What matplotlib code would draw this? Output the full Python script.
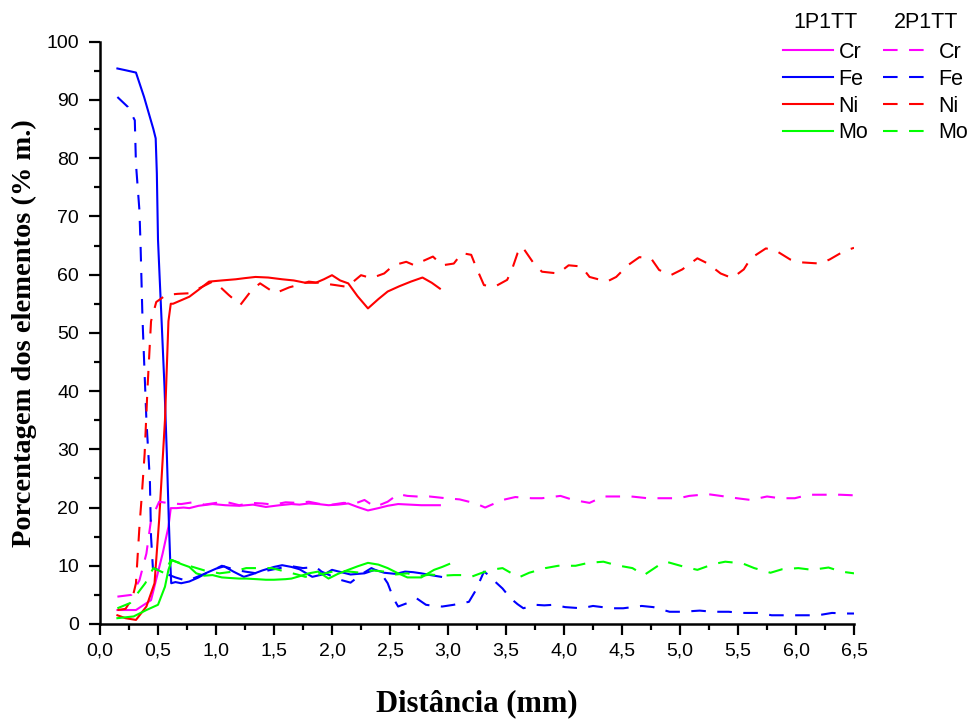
import matplotlib
matplotlib.use("Agg")
import matplotlib.pyplot as plt
from matplotlib.lines import Line2D
from matplotlib.ticker import MultipleLocator, FuncFormatter

# ---- profile data: element content (% mass) vs distance (mm) ----
# 1P1TT
cr1_x = [0.15, 0.22, 0.31, 0.44, 0.54, 0.59, 0.61, 0.66, 0.72, 0.77, 0.85, 0.97, 1.08, 1.20,
         1.32, 1.43, 1.55, 1.65, 1.72, 1.80, 1.88, 1.97, 2.05, 2.14, 2.22, 2.31, 2.40, 2.48,
         2.57, 2.67, 2.77, 2.85, 2.93]
cr1_y = [2.4, 2.4, 2.4, 4.1, 12.1, 16.7, 19.9, 19.9, 20.0, 19.9, 20.3, 20.6, 20.4, 20.3,
         20.5, 20.1, 20.4, 20.6, 20.5, 20.7, 20.6, 20.4, 20.5, 20.7, 20.1, 19.5, 19.9, 20.3,
         20.6, 20.5, 20.4, 20.4, 20.4]

fe1_x = [0.15, 0.22, 0.31, 0.38, 0.46, 0.48, 0.49, 0.50, 0.514, 0.528, 0.556, 0.576, 0.593,
         0.605, 0.614, 0.65, 0.70, 0.77, 0.85, 0.92, 1.00, 1.07, 1.15, 1.24, 1.32, 1.40, 1.50,
         1.57, 1.65, 1.72, 1.83, 1.94, 2.00, 2.08, 2.16, 2.28, 2.37, 2.45, 2.55, 2.63, 2.70,
         2.77, 2.85, 2.94]
fe1_y = [95.4, 95.1, 94.7, 90.5, 85.0, 83.4, 77.4, 66.0, 59.6, 53.4, 40.7, 29.3, 17.9,
         11.0, 7.0, 7.2, 7.0, 7.3, 8.0, 8.8, 9.5, 9.9, 9.0, 8.1, 8.6, 9.2, 9.8,
         10.1, 9.8, 9.4, 8.1, 8.6, 9.3, 8.9, 8.5, 8.7, 9.3, 8.8, 8.6, 9.0, 8.9,
         8.7, 8.4, 8.1]

ni1_x = [0.15, 0.22, 0.31, 0.40, 0.47, 0.51, 0.56, 0.59, 0.61, 0.63, 0.70, 0.77, 0.85, 0.94,
         1.05, 1.17, 1.25, 1.34, 1.45, 1.57, 1.67, 1.77, 1.86, 1.93, 2.00, 2.07, 2.14, 2.22,
         2.31, 2.40, 2.48, 2.58, 2.68, 2.78, 2.86, 2.93]
ni1_y = [1.5, 1.0, 0.7, 3.0, 7.0, 17.9, 35.0, 52.0, 55.0, 55.0, 55.6, 56.2, 57.4, 58.8,
         59.0, 59.2, 59.4, 59.6, 59.5, 59.2, 59.0, 58.6, 58.6, 59.2, 59.9, 59.0, 58.5, 56.3,
         54.2, 55.8, 57.1, 58.0, 58.8, 59.5, 58.6, 57.6]

mo1_x = [0.15, 0.29, 0.40, 0.50, 0.56, 0.59, 0.62, 0.70, 0.77, 0.83, 0.90, 0.97, 1.05, 1.12,
         1.20, 1.26, 1.35, 1.43, 1.50, 1.60, 1.65, 1.72, 1.80, 1.88, 1.97, 2.05, 2.14, 2.22,
         2.31, 2.40, 2.48, 2.56, 2.65, 2.77, 2.88, 2.95, 3.01]
mo1_y = [1.0, 1.3, 2.4, 3.3, 6.4, 9.3, 11.0, 10.3, 9.8, 8.7, 8.3, 8.4, 8.0, 7.9,
         7.8, 7.8, 7.7, 7.6, 7.6, 7.7, 7.8, 8.2, 8.7, 9.0, 7.8, 8.6, 9.3, 9.9,
         10.5, 10.2, 9.6, 8.8, 8.0, 8.0, 9.3, 9.8, 10.3]

# 2P1TT
cr2_x = [0.15, 0.27, 0.34, 0.40, 0.44, 0.51, 0.61, 0.70, 0.80, 0.90, 1.00, 1.10, 1.20, 1.30,
         1.40, 1.50, 1.60, 1.70, 1.80, 1.90, 2.00, 2.10, 2.20, 2.28, 2.37, 2.48, 2.57, 2.65,
         2.73, 2.84, 2.98, 3.10, 3.24, 3.32, 3.47, 3.58, 3.72, 3.81, 3.97, 4.08, 4.22, 4.34,
         4.47, 4.58, 4.72, 4.84, 4.99, 5.08, 5.24, 5.35, 5.49, 5.61, 5.75, 5.86, 5.99, 6.11,
         6.25, 6.38, 6.50]
cr2_y = [4.7, 5.0, 7.5, 12.1, 17.9, 21.0, 20.7, 20.6, 20.9, 20.5, 20.8, 20.9, 20.4, 20.8,
         20.7, 20.5, 20.9, 20.8, 21.0, 20.6, 20.5, 20.8, 20.7, 21.3, 20.1, 21.0, 22.3, 22.0,
         21.9, 21.9, 21.6, 21.4, 20.7, 20.0, 21.3, 21.8, 21.6, 21.6, 22.0, 21.3, 20.8, 21.9,
         21.9, 21.9, 21.6, 21.6, 21.6, 22.0, 22.3, 22.0, 21.6, 21.3, 21.9, 21.6, 21.6, 22.2,
         22.2, 22.2, 22.1]

fe2_x = [0.15, 0.24, 0.30, 0.31, 0.34, 0.35, 0.365, 0.37, 0.40, 0.43, 0.44, 0.456, 0.50,
         0.56, 0.65, 0.75, 0.85, 0.95, 1.05, 1.15, 1.25, 1.35, 1.45, 1.55, 1.63, 1.75, 1.86,
         1.91, 2.00, 2.07, 2.16, 2.25, 2.34, 2.42, 2.48, 2.53, 2.57, 2.65, 2.73, 2.81, 2.88,
         2.95, 3.05, 3.12, 3.18, 3.24, 3.31, 3.35, 3.41, 3.47, 3.54, 3.60, 3.65, 3.75, 3.83,
         3.91, 4.01, 4.15, 4.25, 4.33, 4.41, 4.51, 4.59, 4.67, 4.77, 4.84, 4.91, 5.02, 5.17,
         5.28, 5.42, 5.54, 5.68, 5.79, 5.94, 6.06, 6.19, 6.31, 6.45, 6.50]
fe2_y = [90.5, 88.8, 86.5, 79.0, 71.0, 64.8, 53.4, 50.5, 35.0, 24.7, 15.0, 9.6, 9.3,
         8.7, 8.0, 7.4, 8.2, 9.0, 10.0, 9.4, 9.0, 8.7, 9.2, 9.6, 10.0, 9.6, 9.8,
         9.0, 8.2, 7.6, 7.1, 8.5, 9.6, 8.8, 7.0, 4.4, 3.0, 3.6, 4.4, 3.3, 3.1,
         3.0, 3.3, 3.6, 3.8, 5.8, 9.0, 8.4, 7.2, 6.1, 4.4, 3.4, 2.7, 3.3, 3.2,
         3.3, 2.9, 2.7, 3.1, 2.9, 2.7, 2.7, 2.9, 3.1, 2.9, 2.5, 2.1, 2.1, 2.3,
         2.1, 2.1, 1.9, 1.9, 1.5, 1.5, 1.5, 1.5, 1.9, 1.8, 1.8]

ni2_x = [0.15, 0.22, 0.28, 0.31, 0.34, 0.36, 0.385, 0.41, 0.44, 0.485, 0.57, 0.67, 0.77,
         0.87, 0.97, 1.04, 1.11, 1.21, 1.31, 1.38, 1.51, 1.63, 1.72, 1.80, 1.92, 2.03, 2.13,
         2.25, 2.34, 2.45, 2.53, 2.64, 2.71, 2.78, 2.87, 2.95, 3.05, 3.12, 3.20, 3.24, 3.31,
         3.40, 3.51, 3.55, 3.60, 3.64, 3.74, 3.81, 3.95, 4.04, 4.15, 4.22, 4.37, 4.45, 4.55,
         4.65, 4.75, 4.82, 4.92, 5.02, 5.15, 5.24, 5.35, 5.45, 5.55, 5.61, 5.74, 5.82, 5.95,
         6.05, 6.21, 6.29, 6.42, 6.50]
ni2_y = [2.4, 2.6, 4.5, 7.0, 16.7, 22.0, 29.3, 40.7, 52.0, 55.3, 56.5, 56.7, 56.8,
         57.8, 58.8, 57.8, 56.5, 54.8, 57.4, 58.5, 56.8, 57.8, 58.3, 58.8, 58.5, 58.2, 57.9,
         59.9, 59.4, 60.2, 61.6, 62.2, 61.6, 62.3, 63.1, 61.6, 61.9, 63.7, 63.4, 61.4, 58.2,
         57.9, 59.1, 60.8, 63.7, 64.8, 61.9, 60.5, 60.2, 61.6, 61.4, 59.6, 58.8, 59.6, 61.6,
         63.0, 62.8, 60.8, 59.9, 60.9, 62.8, 61.9, 60.2, 59.4, 60.9, 62.8, 64.5, 64.2, 62.6,
         62.1, 61.9, 62.6, 64.1, 64.6]

mo2_x = [0.15, 0.26, 0.39, 0.46, 0.56, 0.61, 0.70, 0.80, 0.90, 1.03, 1.15, 1.26, 1.37, 1.48,
         1.60, 1.70, 1.77, 1.85, 1.94, 2.05, 2.15, 2.25, 2.35, 2.45, 2.55, 2.65, 2.75, 2.85,
         2.95, 3.05, 3.12, 3.20, 3.28, 3.37, 3.47, 3.54, 3.61, 3.70, 3.84, 3.95, 4.10, 4.21,
         4.34, 4.45, 4.59, 4.69, 4.81, 4.88, 5.04, 5.15, 5.29, 5.39, 5.54, 5.64, 5.78, 5.88,
         6.02, 6.14, 6.28, 6.39, 6.50]
mo2_y = [2.7, 3.6, 7.0, 9.6, 8.7, 11.0, 10.4, 9.8, 9.2, 8.7, 9.0, 9.6, 9.6, 9.6,
         9.0, 8.5, 8.1, 8.4, 8.7, 9.2, 9.0, 8.8, 9.2, 9.0, 8.5, 8.7, 8.2, 8.5,
         8.3, 8.4, 8.4, 8.1, 8.7, 9.3, 9.6, 8.8, 8.0, 8.8, 9.6, 10.0, 10.0, 10.5,
         10.7, 10.1, 9.6, 8.4, 10.0, 10.7, 9.8, 9.3, 10.3, 10.7, 10.4, 9.6, 8.8, 9.4,
         9.6, 9.3, 9.7, 9.0, 8.7]

elements = ["Cr", "Fe", "Ni", "Mo"]
colors = {"Cr": "#FF00FF", "Fe": "#0000FF", "Ni": "#FF0000", "Mo": "#00FF00"}
series_1 = {"Cr": (cr1_x, cr1_y), "Fe": (fe1_x, fe1_y), "Ni": (ni1_x, ni1_y), "Mo": (mo1_x, mo1_y)}
series_2 = {"Cr": (cr2_x, cr2_y), "Fe": (fe2_x, fe2_y), "Ni": (ni2_x, ni2_y), "Mo": (mo2_x, mo2_y)}

LW = 1.5
DASH = (0, (7, 5.5))

fig = plt.figure(figsize=(9.73, 7.21), dpi=100)
ax = fig.add_axes([100 / 973, 1 - 624 / 721, 754 / 973, (624 - 41.7) / 721])

for el in elements:
    x, y = series_1[el]
    ax.plot(x, y, color=colors[el], lw=LW, solid_joinstyle="round")
for el in elements:
    x, y = series_2[el]
    ax.plot(x, y, color=colors[el], lw=LW, linestyle=DASH)

ax.set_xlim(0, 6.5)
ax.set_ylim(0, 100)
ax.xaxis.set_major_locator(MultipleLocator(0.5))
ax.xaxis.set_minor_locator(MultipleLocator(0.25))
ax.yaxis.set_major_locator(MultipleLocator(10))
ax.yaxis.set_minor_locator(MultipleLocator(5))
ax.xaxis.set_major_formatter(FuncFormatter(lambda v, p: f"{v:.1f}".replace(".", ",")))
ax.yaxis.set_major_formatter(FuncFormatter(lambda v, p: f"{v:.0f}"))

for side in ("top", "right"):
    ax.spines[side].set_visible(False)
for side in ("left", "bottom"):
    ax.spines[side].set_linewidth(1.8)

ax.tick_params(which="major", direction="out", length=8, width=1.6,
               labelsize=14, pad=5)
ax.tick_params(which="minor", direction="out", length=4, width=1.6)
ax.tick_params(axis="y", which="major", pad=7)
for lab in ax.get_xticklabels() + ax.get_yticklabels():
    lab.set_fontfamily("Liberation Sans")

ax.set_xlabel("Distância (mm)", fontfamily="Liberation Serif", fontweight="bold",
              fontsize=22, labelpad=22)
ax.set_ylabel("Porcentagem dos elementos (% m.)", fontfamily="Liberation Serif",
              fontweight="bold", fontsize=20.5, labelpad=7)

# legends: one column per sample, each headed by its name
leg_font = {"family": "Liberation Sans", "size": 15.5}
h1 = [Line2D([], [], color=colors[el], lw=LW) for el in elements]
h2 = [Line2D([], [], color=colors[el], lw=LW, linestyle=DASH) for el in elements]
common = dict(frameon=False, prop=leg_font, handlelength=2.3, handletextpad=0.28,
              labelspacing=0.27, borderpad=0, borderaxespad=0, loc="upper left",
              title_fontproperties=leg_font)
leg1 = fig.legend(h1, elements, title="1P1TT",
                  bbox_to_anchor=(783 / 973, 1 - 12 / 721), **common)
leg1._legend_box.sep = 6.4
leg2 = fig.legend(h2, elements, title="2P1TT",
                  bbox_to_anchor=(883 / 973, 1 - 12 / 721), **common)
leg2._legend_box.sep = 6.4

fig.savefig("out.png", dpi=100)
